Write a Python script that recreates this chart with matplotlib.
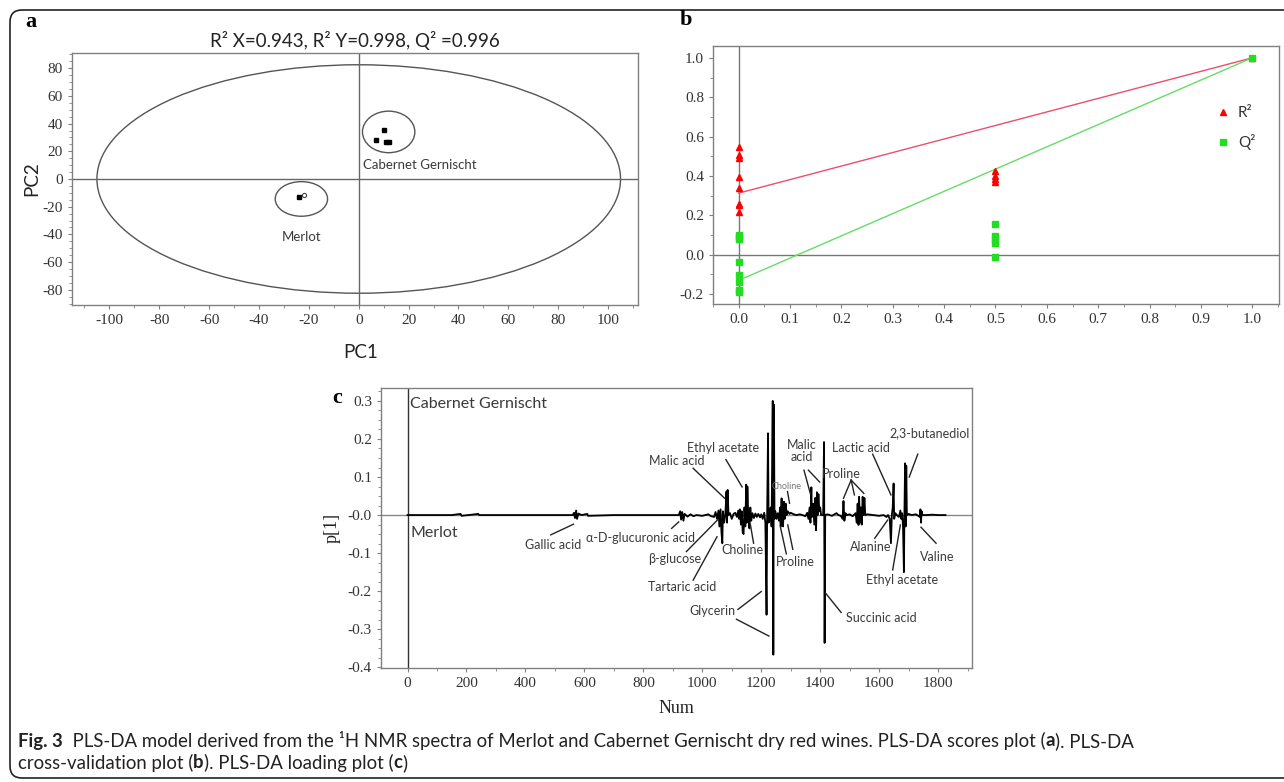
import matplotlib
matplotlib.use("Agg")
import matplotlib.pyplot as plt
import numpy as np
from matplotlib.patches import Ellipse, FancyBboxPatch
from matplotlib.transforms import IdentityTransform
from matplotlib.ticker import MultipleLocator

plt.rcParams["axes.unicode_minus"] = False

# ---- panel a: PLS-DA scores ----
cab_pc1 = [10.2, 7.1, 11.0, 12.3]
cab_pc2 = [35.5, 28.0, 27.0, 27.0]
mer_pc1 = [-24.0]
mer_pc2 = [-13.0]
mer_open_pc1 = [-22.0]
mer_open_pc2 = [-11.8]
a_title = "R² X=0.943, R² Y=0.998, Q² =0.996"

# ---- panel b: cross-validation (permutation) ----
r2_x = [0] * 8 + [0.5] * 4 + [1.0]
r2_y = [0.545, 0.506, 0.489, 0.396, 0.338, 0.26, 0.254, 0.218,
        0.424, 0.40, 0.385, 0.37, 1.0]
q2_x = [0] * 8 + [0.5] * 5 + [1.0]
q2_y = [0.10, 0.09, 0.08, -0.037, -0.105, -0.139, -0.178, -0.191,
        0.154, 0.093, 0.081, 0.062, -0.009, 1.0]
r2_line = ([0, 1], [0.313, 1.0])
q2_line = ([0, 1], [-0.13, 1.0])

# ---- panel c: loading p[1] vs Num ----
num = [0, 150, 180, 183, 240, 243, 400, 560, 565, 568, 572, 575, 580, 590, 610, 612, 700,
       900, 920, 925, 928, 932, 936, 940, 950, 960, 970, 980, 1000, 1020, 1030,
       1040, 1045, 1050, 1055, 1058, 1062, 1065, 1068, 1070, 1074, 1078, 1082, 1084, 1086,
       1089, 1094, 1100, 1106, 1112, 1118, 1122, 1125, 1128, 1131, 1134, 1137, 1140, 1143,
       1146, 1149, 1151, 1153, 1156, 1160, 1163, 1166, 1170, 1175, 1180, 1185, 1190, 1196,
       1200, 1205, 1210, 1214, 1218, 1220, 1223, 1225, 1228, 1232, 1235, 1239, 1241, 1243,
       1245, 1248, 1252, 1256, 1260, 1264, 1266, 1269, 1271, 1274, 1277, 1280, 1283, 1286,
       1290, 1296, 1300, 1310, 1320, 1330, 1340, 1350, 1356, 1360, 1364, 1367, 1370, 1372,
       1376, 1380, 1383, 1386, 1389, 1391, 1394, 1397, 1400, 1403, 1410, 1413, 1415, 1417,
       1425, 1440, 1455, 1462, 1470, 1476, 1479, 1482, 1486, 1490, 1500, 1510, 1520, 1524,
       1527, 1530, 1532, 1535, 1538, 1541, 1544, 1547, 1550, 1553, 1560, 1580, 1600, 1615,
       1625, 1630, 1636, 1640, 1643, 1646, 1649, 1651, 1655, 1660, 1667, 1672, 1675, 1678,
       1681, 1684, 1686, 1688, 1690, 1692, 1694, 1700, 1710, 1725, 1738, 1740, 1742, 1744,
       1747, 1760, 1780, 1800, 1825]
p1 = [0, 0, 0.003, -0.002, 0.003, 0, 0, 0, 0.006, -0.008, 0.012, -0.01, 0.004, 0, 0.003, -0.002, 0,
      0, 0, 0.01, -0.012, 0.008, -0.015, 0.003, -0.004, 0.002, -0.003, 0, -0.002, 0.002, -0.003,
      -0.005, 0.008, -0.01, 0.012, -0.03, 0.015, -0.045, -0.074, 0.01, -0.02, 0.0, 0.062, -0.02, 0.066,
      0.0, 0.005, -0.01, 0.003, 0.006, -0.005, 0.012, -0.01, 0.015, -0.025, 0.01, -0.045, -0.05, 0.02,
      -0.03, 0.08, -0.02, 0.075, -0.005, -0.035, 0.02, -0.015, 0.005, -0.008, 0.004, -0.005, 0.003, -0.006,
      0.002, -0.01, 0.006, -0.02, -0.262, 0.0, 0.215, -0.02, -0.01, 0.02, -0.03, 0.30, -0.367, 0.29,
      -0.01, 0.01, -0.01, 0.005, -0.015, 0.02, -0.03, 0.044, -0.02, -0.03, 0.035, -0.01, 0.03, 0.0,
      0.01, 0.003, 0.006, 0.002, 0.0, 0.002, 0.0, -0.003, 0.006, -0.01, 0.02, -0.02, 0.073, -0.005,
      0.03, -0.025, 0.045, -0.04, 0.06, 0.0, 0.055, 0.01, 0.02, 0.0, 0.0, 0.192, -0.336, 0.0,
      0.002, -0.002, 0.005, 0.0, -0.002, -0.01, 0.037, -0.015, 0.005, 0.0, 0.002, -0.003, 0.005, -0.02,
      0.03, -0.026, 0.048, -0.02, 0.02, -0.025, 0.048, 0.0, 0.045, 0.0, 0.002, 0.0, -0.002, 0.0,
      -0.005, 0.0, -0.01, -0.074, 0.0, 0.02, 0.083, -0.01, 0.005, 0.0, -0.005, 0.012, -0.01, 0.005,
      -0.03, -0.15, 0.02, 0.136, -0.03, 0.13, 0.0, 0.003, 0.0, 0.002, -0.005, 0.015, -0.02, 0.01,
      0.0, 0.0, 0.001, 0.0, 0.0]

# label text, text position (num, p1), list of line segments ((x0,y0),(x1,y1))
c_labels = [
    ("Gallic acid", (493, -0.079), [((486, -0.052), (563, -0.024))]),
    ("α-D-glucuronic acid", (792, -0.059), [((896, -0.035), (920, -0.018))]),
    ("β-glucose", (907, -0.115), [((946, -0.096), (1054, -0.011))]),
    ("Tartaric acid", (930, -0.19), [((969, -0.171), (1050, -0.057))]),
    ("Glycerin", (1035, -0.252), [((1121, -0.248), (1200, -0.201)),
                                  ((1116, -0.274), (1226, -0.318))]),
    ("Choline", (1135, -0.092), [((1174, -0.074), (1163, -0.024))]),
    ("Malic acid", (913, 0.142), [((969, 0.123), (1076, 0.044))]),
    ("Ethyl acetate", (1070, 0.177), [((1080, 0.146), (1135, 0.074))]),
    ("Malic\nacid", (1336, 0.168), [((1345, 0.118), (1367, 0.055)),
                                   ((1360, 0.118), (1398, 0.087))]),
    ("Lactic acid", (1538, 0.177), [((1578, 0.16), (1640, 0.053))]),
    ("Proline", (1473, 0.109), [((1505, 0.092), (1479, 0.044)),
                                ((1505, 0.092), (1516, 0.053)),
                                ((1505, 0.092), (1548, 0.057))]),
    ("2,3-butanediol", (1770, 0.214), [((1731, 0.16), (1702, 0.10))]),
    ("Proline", (1316, -0.124), [((1285, -0.102), (1265, -0.031)),
                                 ((1307, -0.09), (1290, -0.026))]),
    ("Alanine", (1573, -0.085), [((1585, -0.061), (1629, -0.013))]),
    ("Ethyl acetate", (1677, -0.172), [((1646, -0.144), (1672, -0.026))]),
    ("Valine", (1798, -0.109), [((1793, -0.074), (1742, -0.032))]),
    ("Succinic acid", (1606, -0.27), [((1471, -0.256), (1418, -0.205))]),
]

W, H = 1284, 782
fig = plt.figure(figsize=(W / 100, H / 100), dpi=100)
sans = ["Lato", "DejaVu Sans"]
serif = ["Liberation Serif", "DejaVu Serif"]
txt_col = "#3a3a3a"
spine_col = "#808080"


def frac(l, t, r, b):
    return [l / W, 1 - b / H, (r - l) / W, (b - t) / H]


def style(ax):
    for s in ax.spines.values():
        s.set_color(spine_col)
        s.set_linewidth(1.0)
    ax.tick_params(which="both", direction="out", color=spine_col, labelsize=11,
                   labelcolor="#333333")
    ax.tick_params(which="major", length=3)
    ax.tick_params(which="minor", length=2)
    for lab in ax.get_xticklabels() + ax.get_yticklabels():
        lab.set_family(serif)


# outer rounded frame
frame = FancyBboxPatch((10, 4), 1400, 768, boxstyle="round,pad=0,rounding_size=12",
                       transform=IdentityTransform(), fill=False, ec="#222222", lw=1.2)
fig.add_artist(frame)

# ---------- a ----------
ax = fig.add_axes(frac(72, 53, 638, 305))
ax.add_patch(Ellipse((0, 0), 210, 165, fill=False, ec="#555555", lw=1))
ax.add_patch(Ellipse((12, 34), 21, 30, fill=False, ec="#555555", lw=1))
ax.add_patch(Ellipse((-23, -14.4), 21, 25, fill=False, ec="#555555", lw=1))
ax.axhline(0, color="#666666", lw=1)
ax.axvline(0, color="#666666", lw=1)
ax.plot(cab_pc1, cab_pc2, "s", color="black", ms=3)
ax.plot(mer_pc1, mer_pc2, "s", color="black", ms=3)
ax.plot(mer_open_pc1, mer_open_pc2, "o", mfc="white", mec="#444444", ms=3, mew=0.8)
ax.text(24.5, 10, "Cabernet Gernischt", ha="center", va="center", fontsize=9.5,
        family=sans, color=txt_col)
ax.text(-23, -41.6, "Merlot", ha="center", va="center", fontsize=9.5, family=sans,
        color=txt_col)
ax.set_xlim(-115, 112)
ax.set_ylim(-91, 91)
ax.set_xticks(np.arange(-100, 101, 20))
ax.set_yticks(np.arange(-80, 81, 20))
ax.xaxis.set_minor_locator(MultipleLocator(10))
ax.yaxis.set_minor_locator(MultipleLocator(5))
ax.set_title(a_title, fontsize=13.5, family=sans, color="#222222", pad=4)
ax.set_xlabel("PC1", fontsize=13.5, family=sans, color="#222222")
ax.xaxis.set_label_coords(0.51, -0.155)
ax.set_ylabel("PC2", fontsize=13.5, family=sans, color="#222222", labelpad=2)
style(ax)

# ---------- b ----------
bx = fig.add_axes(frac(713, 46, 1279, 304))
bx.axhline(0, color="#777777", lw=1)
bx.axvline(0, color="#777777", lw=1)
bx.plot(*r2_line, color="#e8506e", lw=1)
bx.plot(*q2_line, color="#66dd66", lw=1)
bx.plot(r2_x, r2_y, "^", color="#ff0000", ms=5, ls="none", label="R²")
bx.plot(q2_x, q2_y, "s", color="#22dd22", ms=4, ls="none", label="Q²")
bx.set_xlim(-0.05, 1.052)
bx.set_ylim(-0.25, 1.06)
bx.set_xticks(np.arange(0, 1.01, 0.1))
bx.set_xticklabels([f"{v:.1f}" for v in np.arange(0, 1.01, 0.1)])
bx.set_yticks(np.arange(-0.2, 1.01, 0.2))
bx.set_yticklabels([f"{v:.1f}" for v in np.arange(-0.2, 1.01, 0.2)])
bx.xaxis.set_minor_locator(MultipleLocator(0.05))
bx.yaxis.set_minor_locator(MultipleLocator(0.1))
leg = bx.legend(loc="upper left", bbox_to_anchor=(0.86, 0.82), frameon=False,
                handletextpad=0.4, labelspacing=0.9, handlelength=1.2,
                prop={"family": sans, "size": 11})
for t in leg.get_texts():
    t.set_color("#333333")
style(bx)

# ---------- c ----------
cx = fig.add_axes(frac(381, 388, 972, 668))
cx.axhline(0, color="#888888", lw=1)
cx.axvline(0, color="#333333", lw=1)
cx.plot(num, p1, color="black", lw=1.3)
cx.text(10, 0.293, "Cabernet Gernischt", ha="left", va="center", fontsize=11.5,
        family=sans, color=txt_col)
cx.text(10, -0.046, "Merlot", ha="left", va="center", fontsize=11.5, family=sans,
        color=txt_col)
for lab, pos, segs in c_labels:
    cx.text(pos[0], pos[1], lab, ha="center", va="center", fontsize=9, family=sans,
            color=txt_col, linespacing=1.0)
    for (x0, y0), (x1, y1) in segs:
        cx.plot([x0, x1], [y0, y1], color="#222222", lw=1)
cx.text(1285, 0.074, "Choline", ha="center", va="center", fontsize=6.5, family=sans,
        color="#777777")
cx.plot([1289, 1296], [0.062, 0.031], color="#222222", lw=1)
cx.set_xlim(-90, 1915)
cx.set_ylim(-0.402, 0.334)
cx.set_xticks(np.arange(0, 1801, 200))
cx.set_yticks(np.round(np.arange(-0.4, 0.31, 0.1), 1))
cx.set_yticklabels(["-0.4", "-0.3", "-0.2", "-0.1", "-0.0", "0.1", "0.2", "0.3"])
cx.xaxis.set_minor_locator(MultipleLocator(100))
cx.yaxis.set_minor_locator(MultipleLocator(0.025))
cx.set_xlabel("Num", fontsize=13, family=serif, color="#222222", labelpad=7)
cx.set_ylabel("p[1]", fontsize=13, family=serif, color="#222222", labelpad=5)
style(cx)

# panel letters
for s, x, y in [("a", 25, 22), ("b", 680, 20), ("c", 332, 398)]:
    fig.text(x / W, 1 - y / H, s, fontsize=16, fontweight="bold", family=serif,
             ha="left", va="center")

# caption
cap_font = ["Lato", "DejaVu Sans"]
renderer = fig.canvas.get_renderer()


def put_runs(x, y, runs, size=13.4):
    for s, w in runs:
        t = fig.text(x / W, 1 - y / H, s, fontsize=size, fontweight=w, family=cap_font,
                     color="#222222", ha="left", va="center")
        x += t.get_window_extent(renderer).width


put_runs(18, 741, [("Fig. 3", "bold"),
                   ("  PLS-DA model derived from the ¹H NMR spectra of Merlot and Cabernet "
                    "Gernischt dry red wines. PLS-DA scores plot (", "normal"),
                   ("a", "bold"), ("). PLS-DA", "normal")])
put_runs(18, 763, [("cross-validation plot (", "normal"), ("b", "bold"),
                   ("). PLS-DA loading plot (", "normal"), ("c", "bold"), (")", "normal")])

fig.savefig("out.png", dpi=100)
